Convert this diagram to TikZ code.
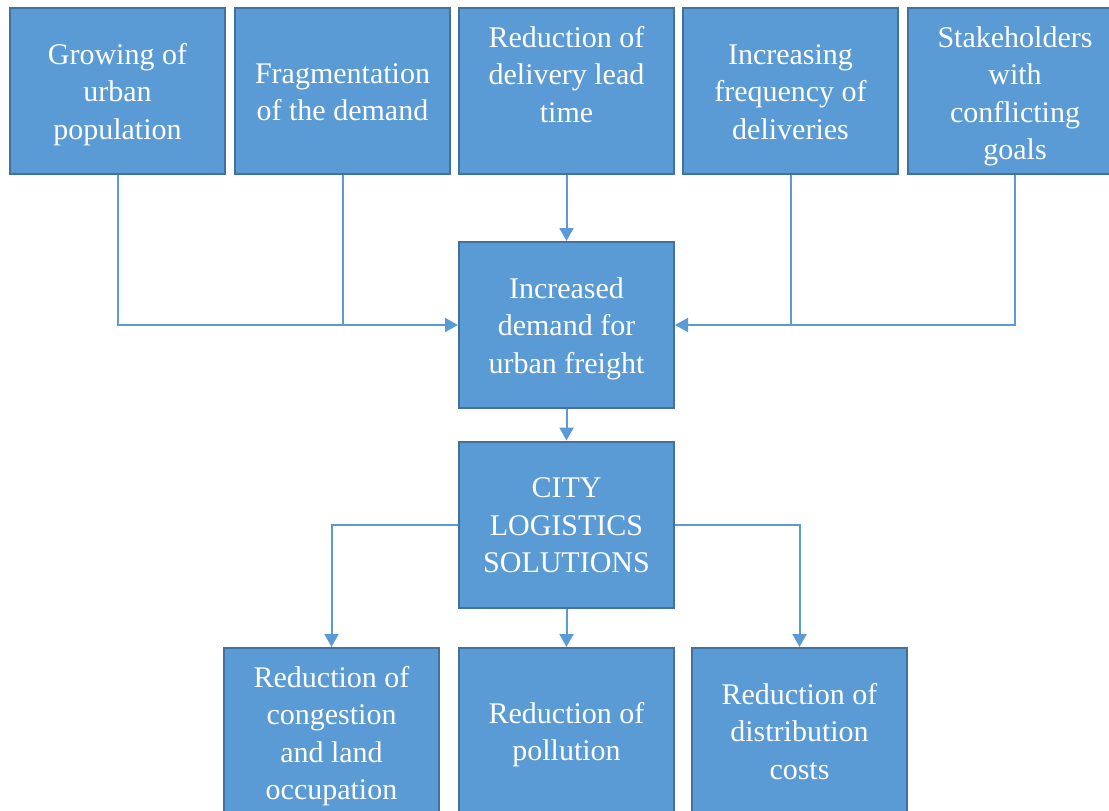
\documentclass[tikz,border=0pt]{standalone}
\usepackage{fontspec}
\setmainfont{Liberation Serif}
\usetikzlibrary{arrows.meta}
\definecolor{boxfill}{HTML}{5B9BD5}
\definecolor{boxline}{HTML}{41719C}
\definecolor{linkcol}{HTML}{5B9BD5}
% invisible rules that fix the height of the first line of a box text
\newcommand{\firstln}{\rule{0pt}{33pt}}
\newcommand{\firstlntall}{\rule{0pt}{36pt}}
\begin{document}
\begin{tikzpicture}[x=1pt,y=-1pt,
  box/.style={rectangle,fill=boxfill,draw=boxline,line width=2pt,
    minimum width=215pt,minimum height=166pt,inner sep=0pt,
    text=white,align=center,font=\fontsize{30}{37.5}\selectfont,
    execute at end node={\strut}},
  link/.style={draw=linkcol,line width=2pt},
  arr/.style={link,-{Triangle[length=13pt,width=14pt]}}]
\useasboundingbox (0,0) rectangle (1109,811);
\clip (0,0) rectangle (1109,811);
\fill[white] (0,0) rectangle (1109,811);

% top row: causes
\node[box] (g)  at (117.5,91) {\firstln Growing of\\urban\\population};
\node[box] (f)  at (342.5,91) {\firstln Fragmentation\\of the demand};
\node[box] (r)  at (566.5,91) {\firstlntall Reduction of\\delivery lead\\time\\ \mbox{}};
\node[box] (i)  at (790.5,91) {\firstln Increasing\\frequency of\\deliveries};
\node[box] (s)  at (1015,91)  {\firstlntall Stakeholders\\with\\conflicting\\goals};

% centre column
\node[box] (d)  at (566.5,325) {\firstln Increased\\demand for\\urban freight};
\node[box] (c)  at (566.5,524.5) {\firstln CITY\\LOGISTICS\\SOLUTIONS};

% bottom row: effects
\node[box] (cg) at (331.5,731) {\firstlntall Reduction of\\congestion\\and land\\occupation};
\node[box] (p)  at (566.5,731) {\firstln Reduction of\\pollution};
\node[box] (dc) at (799.5,731) {\firstln Reduction of\\distribution\\costs};

% joints of the merging lines
\coordinate (jl) at (g.south |- d.west);
\coordinate (jr) at (s.south |- d.east);

\draw[link] (g.south) -- (jl) -- (f.south |- d.west);
\draw[link] (f.south) -- (f.south |- d.west);
\draw[arr] (f.south |- d.west) -- (d.west);
\draw[arr] (r.south) -- (d.north);
\draw[link] (s.south) -- (jr) -- (i.south |- d.east);
\draw[link] (i.south) -- (i.south |- d.east);
\draw[arr] (i.south |- d.east) -- (d.east);

\draw[arr] (d.south) -- (c.north);
\draw[arr] (c.west) -| (cg.north);
\draw[arr] (c.south) -- (p.north);
\draw[arr] (c.east) -| (dc.north);
\end{tikzpicture}
\end{document}
